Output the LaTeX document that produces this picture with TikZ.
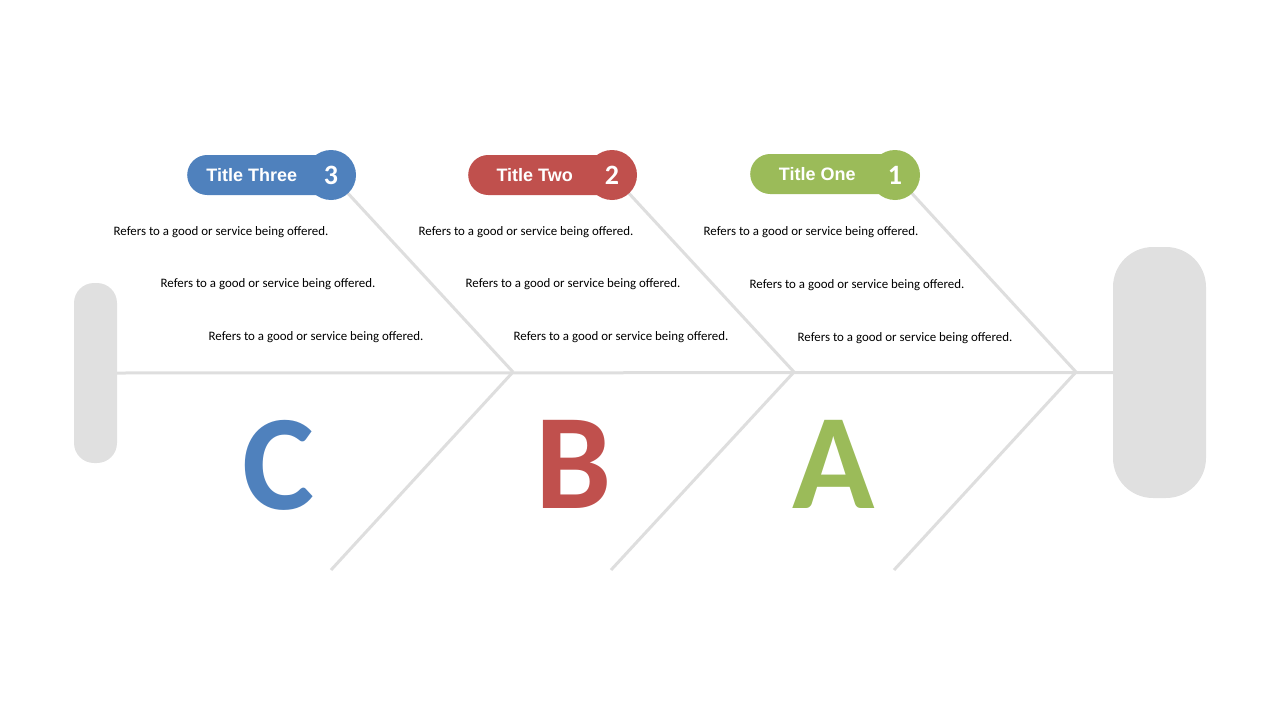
\documentclass[tikz,border=0pt]{standalone}
\usepackage{fontspec}
\setmainfont{Carlito}
\newfontfamily\titlefont{Liberation Sans}
\definecolor{boneGray}{HTML}{DEDEDE}
\definecolor{headGray}{HTML}{E0E0E0}
\definecolor{cBlue}{HTML}{4F81BD}
\definecolor{cRed}{HTML}{C0504D}
\definecolor{cGreen}{HTML}{9BBB59}
\tikzset{
  bone/.style={draw=boneGray, line width=3pt},
  pill/.style={fill=#1, text=white, rounded corners=20pt, minimum height=40pt,
    minimum width=155pt, inner sep=0pt, font=\titlefont\bfseries\fontsize{18}{21}\selectfont},
  badge/.style={circle, fill=#1, text=white, minimum size=50pt, inner sep=0pt,
    font=\bfseries\fontsize{28}{30}\selectfont},
  cause/.style={inner sep=0pt, font=\fontsize{12.9}{15}\selectfont},
  bigletter/.style={text=#1, inner sep=0pt, font=\bfseries\fontsize{136}{140}\selectfont}
}
\begin{document}
\begin{tikzpicture}[x=1pt,y=-1pt]

	    \useasboundingbox (0,0) rectangle (1280,720);

	    % tail and head
	    \node (tail) [fill=headGray, rounded corners=20pt, minimum width=43pt, minimum height=180pt, inner sep=0pt] at (95.5,373) {};
	    \node (head) [fill=headGray, rounded corners=40pt, minimum width=93pt, minimum height=251pt, inner sep=0pt] at (1159.5,372.5) {};

	    % joints on the spine and free bone ends
	    \coordinate (jC) at (513,372);
	    \coordinate (jB) at (794,372);
	    \coordinate (jA) at (1076,372);
	    \coordinate (eC) at (331,570);
	    \coordinate (eB) at (611,570);
	    \coordinate (eA) at (894,570);

	    \draw[bone] (tail.east) -- (head.west);
	    \draw[bone] (jC) -- (eC);
	    \draw[bone] (jB) -- (eB);
	    \draw[bone] (jA) -- (eA);
	    \draw[bone] (331,175) -- (jC);
	    \draw[bone] (612,175) -- (jB);
	    \draw[bone] (895,175) -- (jA);

	    % titles
	    \node (t3) [pill=cBlue, anchor=west] at (187,175) {\hspace*{-26pt}Title Three};
	    \node (n3) [badge=cBlue] at (331,175) {3};
	    \node (t2) [pill=cRed, anchor=west] at (468,175) {\hspace*{-22pt}Title Two};
	    \node (n2) [badge=cRed] at (612,175) {2};
	    \node (t1) [pill=cGreen, anchor=west] at (750,174) {\hspace*{-21pt}Title One};
	    \node (n1) [badge=cGreen] at (895,175) {1};

	    % causes
	    \node (c1) [cause] at (221,232) {Refers to a good or service being offered.};
	    \node (c2) [cause] at (268,284) {Refers to a good or service being offered.};
	    \node (c3) [cause] at (316,337) {Refers to a good or service being offered.};
	    \node (b1) [cause] at (526,232) {Refers to a good or service being offered.};
	    \node (b2) [cause] at (573,284) {Refers to a good or service being offered.};
	    \node (b3) [cause] at (621,337) {Refers to a good or service being offered.};
	    \node (a1) [cause] at (811,232) {Refers to a good or service being offered.};
	    \node (a2) [cause] at (857,285) {Refers to a good or service being offered.};
	    \node (a3) [cause] at (905,338) {Refers to a good or service being offered.};

	    % letters
	    \node (lC) [bigletter=cBlue] at (278,465) {C};
	    \node (lB) [bigletter=cRed] at (574,464) {B};
	    \node (lA) [bigletter=cGreen] at (834,464) {A};

\end{tikzpicture}
\end{document}
